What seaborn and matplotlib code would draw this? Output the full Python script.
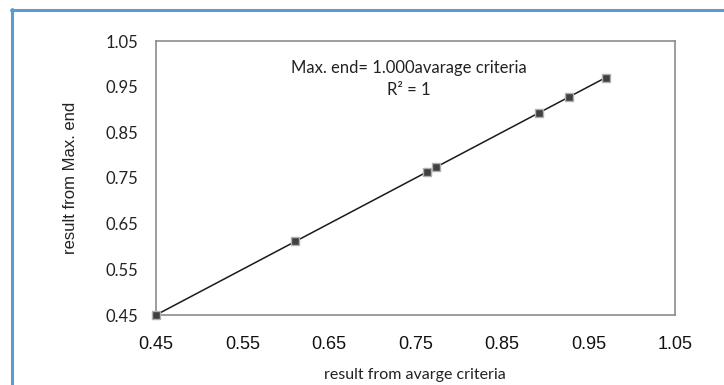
import matplotlib
matplotlib.use("Agg")
import matplotlib.pyplot as plt
from matplotlib.lines import Line2D
import seaborn as sns
import numpy as np
import pandas as pd

# --- data ---
avg_criteria = [0.450, 0.611, 0.763, 0.774, 0.893, 0.928, 0.970]
max_end = [0.450, 0.611, 0.763, 0.774, 0.893, 0.928, 0.970]
ticks = [0.45, 0.55, 0.65, 0.75, 0.85, 0.95, 1.05]
tick_labels = ["0.45", "0.55", "0.65", "0.75", "0.85", "0.95", "1.05"]
eq_text = "Max. end= 1.000avarage criteria"
r2_text = "R² = 1"

df = pd.DataFrame({"avg": avg_criteria, "max": max_end})

sns.set_style("white")
plt.rcParams["font.family"] = ["Lato", "DejaVu Sans"]

fig = plt.figure(figsize=(7.24, 3.85), dpi=100)
ax = fig.add_axes([156 / 724, 1 - 315 / 385, 519 / 724, 274 / 385])

# trendline, then markers on top
sns.regplot(data=df, x="avg", y="max", ax=ax, scatter=False, ci=None,
            line_kws={"color": "#1a1a1a", "linewidth": 1.1})
sns.scatterplot(data=df, x="avg", y="max", ax=ax, marker="s", s=38,
                color="#404040", edgecolor="#b0b0b0", linewidth=1.0,
                zorder=3, clip_on=False)

ax.set_xlim(0.45, 1.05)
ax.set_ylim(0.45, 1.05)
ax.set_xticks(ticks)
ax.set_yticks(ticks)
ax.set_xticklabels(tick_labels, family=["Liberation Sans"], fontsize=13, color="#111111")
ax.set_yticklabels(tick_labels, family=["Lato"], fontsize=12, color="#222222")

for sp in ax.spines.values():
    sp.set_color("#8c8c8c")
    sp.set_linewidth(1.2)
ax.tick_params(axis="both", direction="out", length=4, width=1, color="#8c8c8c")
ax.tick_params(axis="y", pad=9)
ax.tick_params(axis="x", pad=11)

ax.set_xlabel("result from avarge criteria", family=["Lato"], fontsize=11.5, color="#222222")
ax.set_ylabel("result from Max. end", family=["Liberation Sans"], fontsize=12, color="#222222")
ax.xaxis.set_label_coords(0.499, -0.193)
ax.yaxis.set_label_coords(-0.150, 0.5)

ax.text(0.487, 0.90, eq_text, transform=ax.transAxes, ha="center", va="center",
        fontsize=12, color="#222222")
ax.text(0.487, 0.822, r2_text, transform=ax.transAxes, ha="center", va="center",
        fontsize=12, color="#222222")

# blue frame (top and left edges)
blue = "#5b9bd5"
fig.add_artist(Line2D([11 / 724, 1.0], [1 - 10 / 385, 1 - 10 / 385],
                      transform=fig.transFigure, color=blue, linewidth=2.2))
fig.add_artist(Line2D([12 / 724, 12 / 724], [0.0, 1 - 9 / 385],
                      transform=fig.transFigure, color=blue, linewidth=2.2))

fig.savefig("out.png", dpi=100)
